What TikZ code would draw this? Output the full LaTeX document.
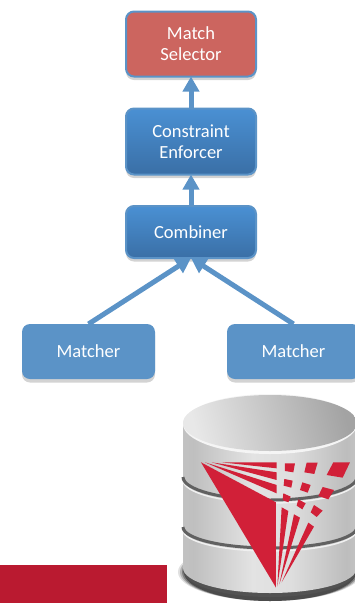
\documentclass[tikz,border=0pt]{standalone}
\usepackage{fontspec}
\setmainfont{Carlito}
\usetikzlibrary{arrows.meta,shadows}
\definecolor{boxline}{HTML}{5B93C7}
\definecolor{boxtop}{HTML}{4A90D3}
\definecolor{boxbot}{HTML}{3A6FA6}
\definecolor{selfill}{HTML}{CC655F}
\definecolor{logored}{HTML}{D12038}
\definecolor{barred}{HTML}{BA1A30}
\pgfdeclarehorizontalshading{dbbody}{100bp}{color(0bp)=(black!16);color(28bp)=(black!25);color(45bp)=(black!11);color(56bp)=(black!13);color(72bp)=(black!26);color(88bp)=(black!12);color(100bp)=(black!16)}
\tikzset{
  stagebox/.style={rounded corners=8,minimum width=130,text=white,align=center,
    font=\fontsize{18.5}{21}\selectfont,outer sep=0,inner sep=0,
    drop shadow={shadow xshift=0,shadow yshift=3.5,opacity=.35}},
  bluebox/.style={stagebox,draw=boxline,line width=2,top color=boxtop,bottom color=boxbot},
  matchbox/.style={stagebox,fill=boxline,minimum width=133,minimum height=55},
  flow/.style={draw=boxline,line width=5,-{Triangle[length=15,width=16]}},
  band/.style={draw=black!62,line width=3},
  bandlight/.style={draw=black!6,line width=1.5},
  logo/.style={fill=logored}
}
\begin{document}
\begin{tikzpicture}[x=1pt,y=-1pt]
  \useasboundingbox (0,0) rectangle (354,603);

  \node[bluebox,fill=selfill,top color=selfill,bottom color=selfill,minimum height=65] (selector) at (191,44) {Match\\Selector};
  \node[bluebox,minimum height=66] (enforcer) at (191,141.5) {Constraint\\Enforcer};
  \node[bluebox,minimum height=52] (combiner) at (191,232) {Combiner};
  \node[matchbox] (m1) at (88.5,351.5) {Matcher};
  \node[matchbox] (m2) at (293.5,351.5) {Matcher};

  \draw[flow] (enforcer.north) -- (selector.south);
  \draw[flow] (combiner.north) -- (enforcer.south);
  \draw[flow] (m1.north) -- (combiner.south);
  \draw[flow] (m2.north) -- (combiner.south);

  \fill[barred] (0,565) rectangle (167,603);

  \foreach \r/\o in {92/.12,90/.2,88/.3,86/.4}
    \fill[black,opacity=\o] (270,572) ellipse [x radius=\r,y radius=29];
  \fill[black!68] (270,570) ellipse [x radius=87,y radius=27];
  \shade[shading=dbbody] (183,424) -- (183,568) arc (180:0:87 and 25) -- (357,424) -- cycle;
  \draw[bandlight] (183,480) arc (180:0:87 and 23);
  \draw[band] (183,477) arc (180:0:87 and 23);
  \draw[bandlight] (183,530) arc (180:0:87 and 21);
  \draw[band] (183,527) arc (180:0:87 and 21);
  \fill[black!4] (270,424) ellipse [x radius=87,y radius=30];
  \shade[left color=black!9,right color=black!36,shading angle=105] (270,423) ellipse [x radius=87,y radius=28];

  \begin{scope}[shift={(170,385)},x=.3333pt,y=-.3333pt]
    \fill[logo] (93,232) -- (318,352) -- (318,608) -- cycle;
    \fill[logo] (105,232) -- (320,300) -- (320,325) -- cycle;
    \fill[logo] (125,232) -- (320,262) -- (320,285) -- cycle;
    \fill[logo] (155,232) -- (320,232) -- (320,250) -- cycle;
    \fill[logo] (345,235) -- (375,235) -- (370,262) -- (345,258) -- cycle;
    \fill[logo] (410,233) -- (443,233) -- (433,267) -- (403,262) -- cycle;
    \fill[logo] (490,232) -- (540,232) -- (518,278) -- (470,270) -- cycle;
    \fill[logo] (343,282) -- (368,287) -- (364,308) -- (341,302) -- cycle;
    \fill[logo] (397,292) -- (422,300) -- (413,323) -- (390,315) -- cycle;
    \fill[logo] (458,306) -- (492,315) -- (475,343) -- (445,333) -- cycle;
    \fill[logo] (340,325) -- (362,335) -- (355,352) -- (338,345) -- cycle;
    \fill[logo] (385,343) -- (407,355) -- (397,373) -- (380,362) -- cycle;
    \fill[logo] (432,360) -- (458,377) -- (440,396) -- (422,382) -- cycle;
    \fill[logo] (335,367) -- (355,378) -- (322,605) -- cycle;
    \fill[logo] (372,388) -- (390,398) -- (328,598) -- cycle;
    \fill[logo] (415,413) -- (432,425) -- (335,592) -- cycle;
  \end{scope}
\end{tikzpicture}
\end{document}
